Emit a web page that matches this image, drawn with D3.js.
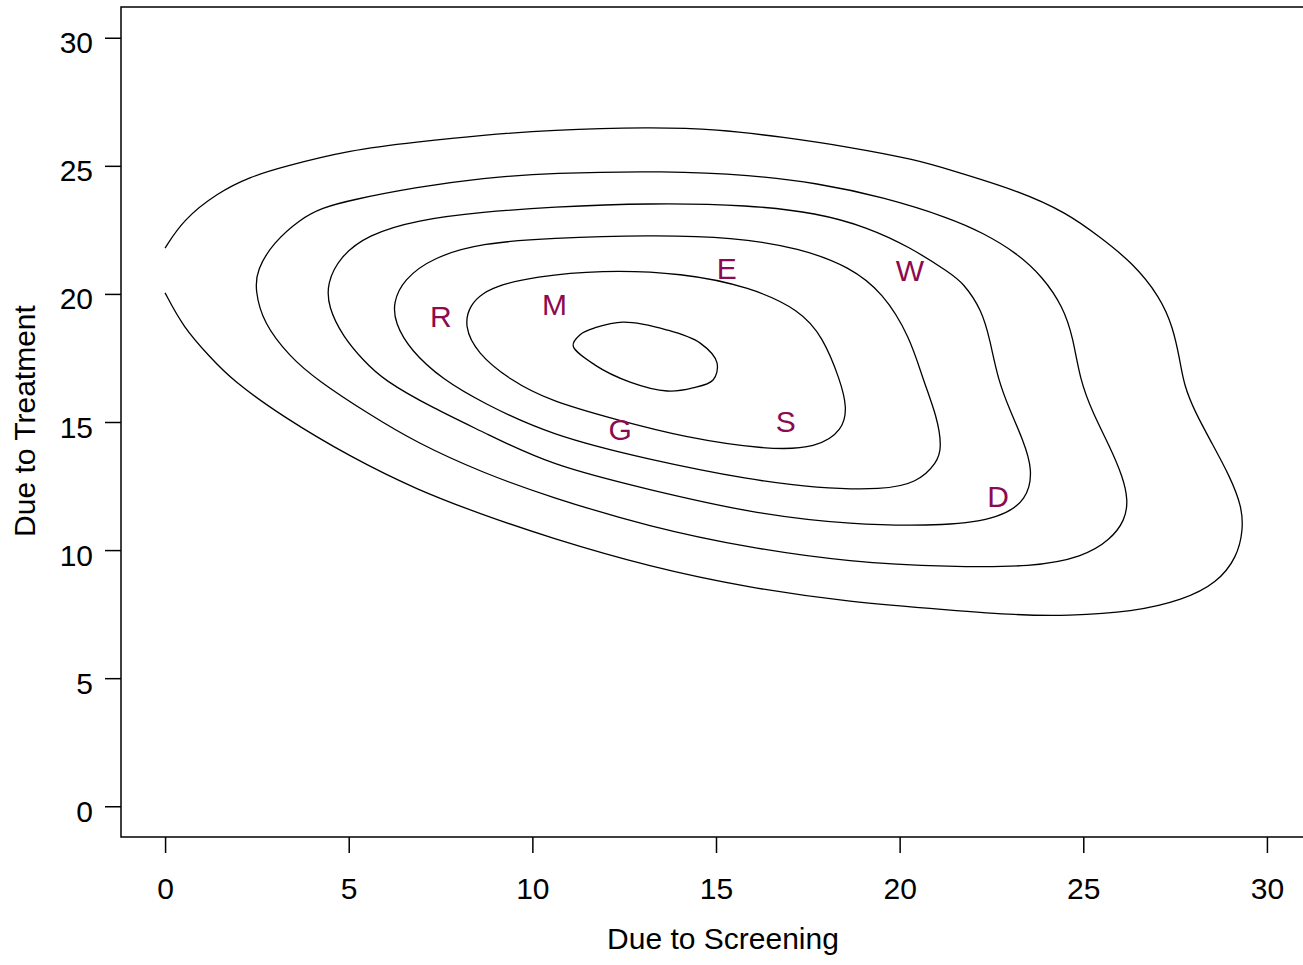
<!DOCTYPE html>
<html>
<head>
<meta charset="utf-8">
<script src="https://cdn.jsdelivr.net/npm/d3@7"></script>
<style>
	html, body { margin: 0; padding: 0; background: #fff; }
	svg { display: block; }
	text { font-family: "Liberation Sans", Arial, Helvetica, sans-serif; font-size: 30px; fill: #000; }
	.contour { fill: none; stroke: #000; stroke-width: 1.3; }
	.box { fill: none; stroke: #000; stroke-width: 1.5; }
	.axis path, .axis line { stroke: #000; stroke-width: 1.5; }
	.label { fill: #8B0A50; }
</style>
</head>
<body>
<svg id="chart" width="1303" height="965"></svg>
<script>
// tick values
const xTicks = [0, 5, 10, 15, 20, 25, 30];
const yTicks = [0, 5, 10, 15, 20, 25, 30];

// contour lines, outermost first (the outer one is cut at x = 0)
const contourOuter = [
	[0, 21.79], [0.49, 22.89], [1.42, 23.94], [2.31, 24.57], [3.21, 24.96], [5.04, 25.62],
	[6.86, 25.93], [8.66, 26.2], [10.48, 26.4], [13.2, 26.51], [15.03, 26.43], [16.83, 26.12],
	[18.65, 25.73], [20.47, 25.23], [21.37, 24.84], [23.19, 24.05], [24.56, 23.16], [25.45, 22.22],
	[26.35, 21.21], [27.09, 19.88], [27.44, 18.71], [27.63, 17.42], [27.74, 16.45], [28.04, 15.39],
	[28.5, 14.18], [29.0, 12.85], [29.32, 11.68], [29.35, 10.78], [29.19, 9.73], [28.64, 8.71],
	[27.72, 8.05], [26.35, 7.58], [24.56, 7.43], [23.19, 7.46], [21.37, 7.66], [18.65, 7.97],
	[15.93, 8.52], [13.2, 9.34], [10.48, 10.48], [8.66, 11.37], [6.86, 12.35], [5.04, 13.64],
	[3.21, 15.2], [1.82, 16.64], [1.22, 17.54], [0.49, 18.71], [0, 20.04]
];
const contour2 = [
	[10.48, 24.72], [13.67, 24.8], [15.93, 24.64], [17.75, 24.33], [19.55, 23.78], [21.37, 22.96],
	[22.27, 22.38], [23.19, 21.6], [23.9, 20.66], [24.45, 19.49], [24.72, 18.32], [24.91, 16.64],
	[25.26, 15.35], [25.73, 14.02], [26.08, 12.85], [26.22, 11.95], [26.14, 11.17], [25.73, 10.39],
	[24.99, 9.73], [23.63, 9.34], [21.37, 9.34], [18.65, 9.53], [15.93, 10.08], [13.2, 10.9],
	[10.48, 12.07], [8.66, 13.01], [6.86, 14.18], [5.5, 15.35], [4.14, 16.64], [3.4, 17.54],
	[2.67, 18.87], [2.45, 20.16], [2.5, 20.94], [2.94, 21.99], [3.68, 22.92], [4.27, 23.36],
	[5.04, 23.66], [6.86, 24.17], [8.66, 24.53]
];
const contour3 = [
	[10.48, 23.39], [13.2, 23.55], [15.93, 23.47], [17.75, 23.16], [19.11, 22.61], [20.28, 21.83],
	[21.37, 20.82], [21.73, 20.43], [22.24, 19.37], [22.46, 18.2], [22.68, 16.64], [23.0, 15.47],
	[23.36, 14.3], [23.63, 13.13], [23.47, 11.95], [22.73, 11.25], [21.37, 10.94], [18.65, 10.98],
	[15.93, 11.45], [13.2, 12.35], [10.48, 13.32], [8.66, 14.61], [7.3, 15.54], [5.94, 16.64],
	[5.39, 17.42], [4.85, 18.32], [4.44, 19.49], [4.41, 20.43], [4.76, 21.44], [5.5, 22.3],
	[6.86, 22.89], [8.66, 23.2]
];
const contour4 = [
	[10.48, 22.18], [13.2, 22.3], [15.46, 22.22], [17.29, 21.79], [18.65, 21.05], [19.55, 20.04],
	[20.28, 18.32], [20.64, 16.64], [21.02, 15.2], [21.15, 14.02], [21.02, 13.4], [20.47, 12.62],
	[19.55, 12.35], [17.75, 12.42], [15.93, 12.74], [13.2, 13.52], [10.48, 14.49], [8.66, 15.74],
	[7.57, 16.64], [6.67, 17.81], [6.26, 18.87], [6.21, 19.65], [6.48, 20.55], [7.3, 21.44],
	[8.66, 21.99]
];
const contour5 = [
	[11.84, 20.94], [14.1, 20.82], [15.93, 20.27], [17.29, 19.37], [17.91, 18.32],
	[18.38, 16.64], [18.57, 15.58], [18.46, 14.69], [17.75, 13.98], [16.39, 13.91], [14.1, 14.41],
	[12.31, 15.08], [10.48, 15.82], [9.39, 16.64], [8.49, 17.69], [8.14, 18.75], [8.3, 19.57],
	[8.66, 20.04], [9.12, 20.35], [10.02, 20.66]
];
const contourInner = [
	[11.11, 17.98], [11.3, 18.41], [11.71, 18.68], [12.47, 18.9], [13.67, 18.59], [14.57, 18.08],
	[15.03, 17.3], [14.92, 16.64], [14.37, 16.33], [13.67, 16.21], [12.66, 16.56], [11.71, 17.22]
];

// point labels
const labelNames = ['R', 'M', 'E', 'W', 'G', 'S', 'D'];
const labelX = [7.51, 10.6, 15.29, 20.28, 12.39, 16.9, 22.68];
const labelY = [19.14, 19.6, 21.0, 20.94, 14.73, 15.02, 12.09];

const svg = d3.select('#chart');

// R style: the axes run 4% past the data range
const x = d3.scaleLinear().domain([-1.2, 31.2]).range([121, 1311]);
const y = d3.scaleLinear().domain([-1.2, 31.2]).range([837, 7]);

// axes
svg.append('g')
	.attr('class', 'axis')
	.attr('transform', 'translate(0,837)')
	.call(d3.axisBottom(x).tickValues(xTicks).tickSize(16).tickSizeOuter(0).tickPadding(25))
	.call((g) => g.select('.domain').remove())
	.call((g) => g.selectAll('text').attr('font-size', null));

svg.append('g')
	.attr('class', 'axis')
	.attr('transform', 'translate(121,0)')
	.call(d3.axisLeft(y).tickValues(yTicks).tickSize(16).tickSizeOuter(0).tickPadding(12))
	.call((g) => g.select('.domain').remove())
	.call((g) => g.selectAll('text').attr('font-size', null).attr('dy', '0.5em'));

// plot box
svg.append('rect')
	.attr('class', 'box')
	.attr('x', x(-1.2))
	.attr('y', y(31.2))
	.attr('width', x(31.2) - x(-1.2))
	.attr('height', y(-1.2) - y(31.2));

// contours (B-spline through the read points keeps them smooth)
const openLine = d3.line()
	.x((d) => x(d[0]))
	.y((d) => y(d[1]))
	.curve(d3.curveBasis);

const closedLine = d3.line()
	.x((d) => x(d[0]))
	.y((d) => y(d[1]))
	.curve(d3.curveBasisClosed);

const innerLine = d3.line()
	.x((d) => x(d[0]))
	.y((d) => y(d[1]))
	.curve(d3.curveCatmullRomClosed.alpha(0.5));

svg.append('path')
	.attr('class', 'contour')
	.attr('d', openLine(contourOuter));

[contour2, contour3, contour4, contour5].forEach((c) => {
	svg.append('path')
		.attr('class', 'contour')
		.attr('d', closedLine(c));
});

svg.append('path')
	.attr('class', 'contour')
	.attr('d', innerLine(contourInner));

// labels
labelNames.forEach((name, i) => {
	svg.append('text')
		.attr('class', 'label')
		.attr('x', x(labelX[i]))
		.attr('y', y(labelY[i]))
		.attr('dy', '0.36em')
		.attr('text-anchor', 'middle')
		.text(name);
});

// axis titles
svg.append('text')
	.attr('x', 723)
	.attr('y', 949)
	.attr('text-anchor', 'middle')
	.text('Due to Screening');

svg.append('text')
	.attr('transform', 'translate(35,421) rotate(-90)')
	.attr('text-anchor', 'middle')
	.text('Due to Treatment');
</script>
</body>
</html>
